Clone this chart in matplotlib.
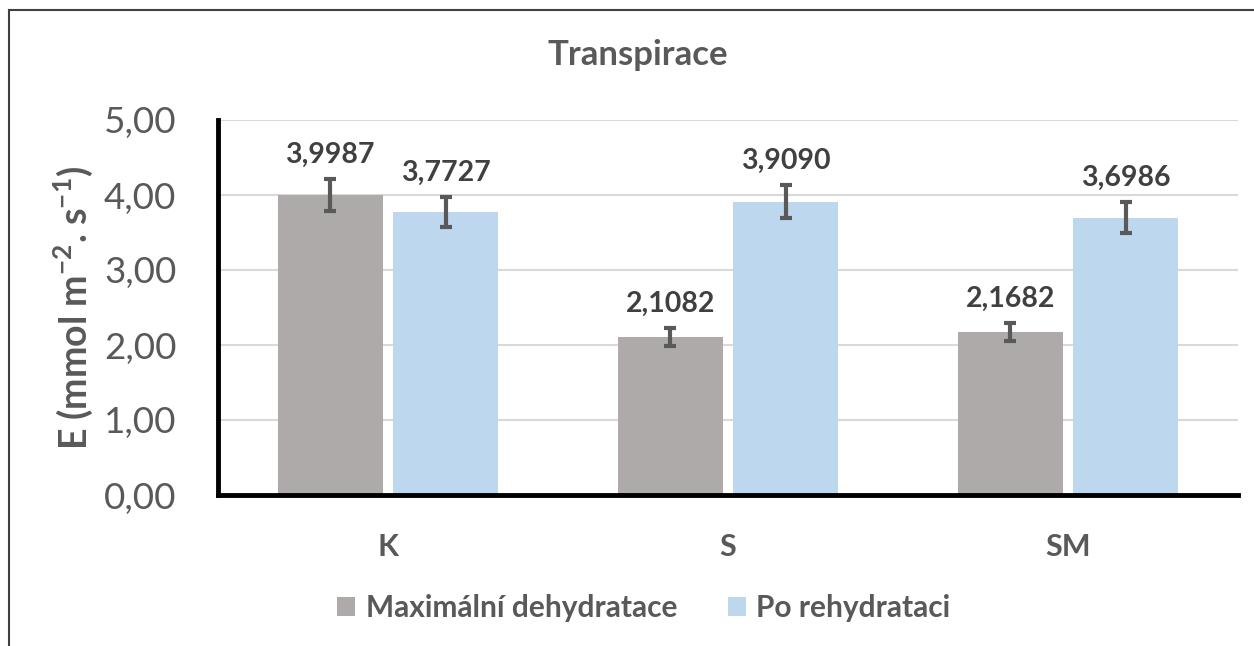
import matplotlib
matplotlib.use('Agg')
import matplotlib.pyplot as plt
import numpy as np

plt.rcParams['font.family'] = ['Lato', 'DejaVu Sans']
plt.rcParams['mathtext.fontset'] = 'custom'
plt.rcParams['mathtext.rm'] = 'Lato'
plt.rcParams['mathtext.bf'] = 'Lato:bold'

# data
categories = ['K', 'S', 'SM']
series_names = ['Maximální dehydratace', 'Po rehydrataci']
dehydr = [3.9987, 2.1082, 2.1682]
rehydr = [3.7727, 3.9090, 3.6986]
dehydr_err = [0.21, 0.12, 0.12]
rehydr_err = [0.20, 0.22, 0.21]
y_ticks = [0, 1, 2, 3, 4, 5]

grey = '#AEAAAA'
blue = '#BDD7EE'
text_col = '#595959'
label_col = '#404040'

fig = plt.figure(figsize=(12.54, 6.46), dpi=100)
ax = fig.add_axes([218 / 1254, 151 / 646, 1020 / 1254, 375 / 646])

x = np.arange(len(categories))
w = 0.309
off = 0.17

ax.bar(x - off, dehydr, w, color=grey, label=series_names[0], zorder=2)
ax.bar(x + off, rehydr, w, color=blue, label=series_names[1], zorder=2)
ax.errorbar(x - off, dehydr, yerr=dehydr_err, fmt='none', ecolor='#595959',
            elinewidth=3, capsize=4.5, capthick=3, zorder=3)
ax.errorbar(x + off, rehydr, yerr=rehydr_err, fmt='none', ecolor='#595959',
            elinewidth=3, capsize=4.5, capthick=3, zorder=3)

# value labels above the error bars
for xi, v, e in zip(x - off, dehydr, dehydr_err):
    ax.annotate(f'{v:.4f}'.replace('.', ','), (xi, v + e), xytext=(0, 8),
                textcoords='offset points', ha='center', va='bottom',
                fontsize=20.5, fontweight='bold', color=label_col)
for xi, v, e in zip(x + off, rehydr, rehydr_err):
    ax.annotate(f'{v:.4f}'.replace('.', ','), (xi, v + e), xytext=(0, 8),
                textcoords='offset points', ha='center', va='bottom',
                fontsize=20.5, fontweight='bold', color=label_col)

ax.set_xlim(-0.5, len(categories) - 0.5)
ax.set_ylim(0, 5)
ax.set_yticks(y_ticks)
ax.set_yticklabels([f'{t:.2f}'.replace('.', ',') for t in y_ticks],
                   fontsize=26.5, color=text_col)
ax.set_xticks(x)
ax.set_xticklabels(categories, fontsize=22, fontweight='bold', color=text_col)
ax.tick_params(axis='both', length=0)
ax.tick_params(axis='y', pad=30)
ax.tick_params(axis='x', pad=27)
ax.yaxis.grid(True, color='#D9D9D9', linewidth=1.5, zorder=0)
ax.set_axisbelow(True)

for s in ['top', 'right']:
    ax.spines[s].set_visible(False)
for s in ['left', 'bottom']:
    ax.spines[s].set_linewidth(3.5)
    ax.spines[s].set_color('black')
    ax.spines[s].set_zorder(4)

ax.set_ylabel(r'E (mmol m$^{\mathbf{-2}}$. s$^{\mathbf{-1}}$)', fontsize=27,
              fontweight='bold', color=text_col, labelpad=6)

fig.text(638 / 1254, 1 - 55 / 646, 'Transpirace', ha='center', va='center',
         fontsize=25, fontweight='bold', color=text_col)

leg = fig.legend(loc='center', bbox_to_anchor=(644 / 1254, 1 - 608 / 646), ncol=2,
                 frameon=False, fontsize=21.5, handlelength=0.6, handleheight=0.6,
                 handletextpad=0.35, columnspacing=1.7)
for t in leg.get_texts():
    t.set_color(text_col)
    t.set_fontweight('bold')

# outer frame (left and top edges visible in the reference)
fig.add_artist(plt.Line2D([9 / 1254, 9 / 1254], [0, 1 - 10 / 646], color='#404040',
                          linewidth=1.5, transform=fig.transFigure))
fig.add_artist(plt.Line2D([9 / 1254, 1], [1 - 10 / 646, 1 - 10 / 646], color='#404040',
                          linewidth=1.5, transform=fig.transFigure))

fig.savefig('out.png', dpi=100, facecolor='white')
